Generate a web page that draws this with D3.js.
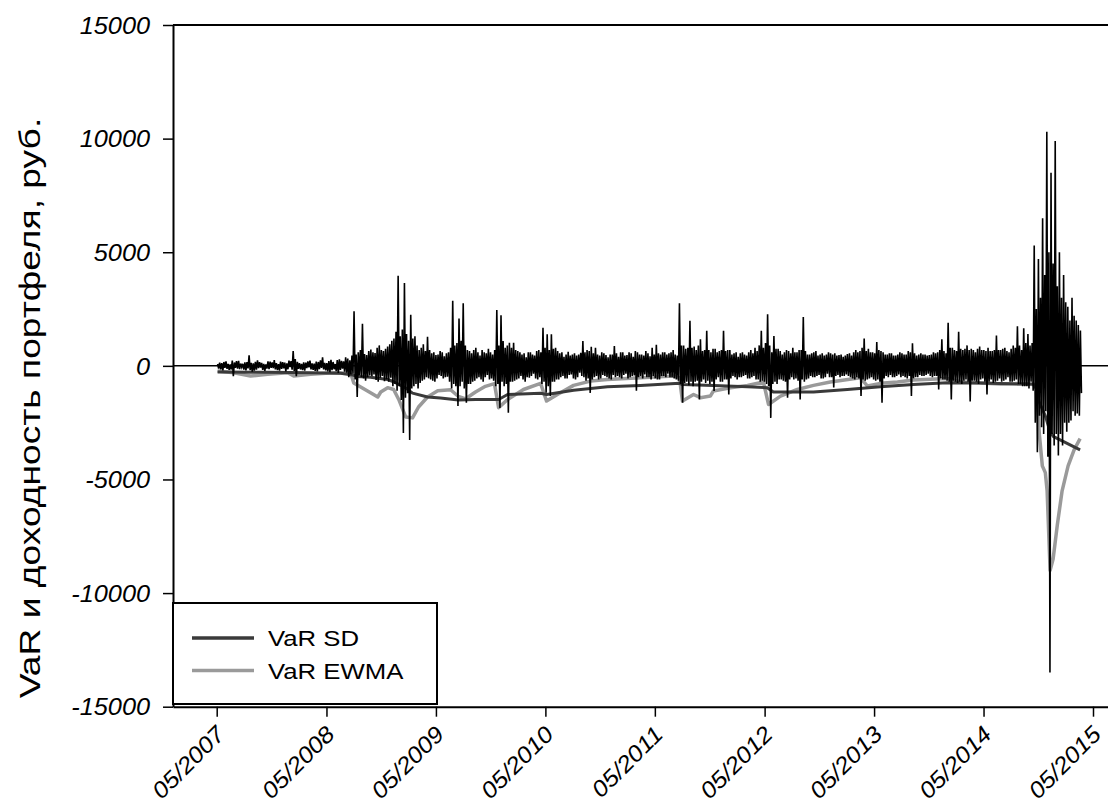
<!DOCTYPE html>
<html>
<head>
<meta charset="utf-8">
<script src="https://cdn.jsdelivr.net/npm/d3@7"></script>
<style>
  body { margin: 0; background: #fff; }
  text { font-family: "Liberation Sans", Arial, sans-serif; }
</style>
</head>
<body>
<svg width="1108" height="805"></svg>
<script>
// tick labels
var yTickValues = [-15000, -10000, -5000, 0, 5000, 10000, 15000];
var xTickLabels = ["05/2007", "05/2008", "05/2009", "05/2010", "05/2011", "05/2012", "05/2013", "05/2014", "05/2015"];
var seriesNames = ["VaR SD", "VaR EWMA"];

// portfolio return, one value every half week starting 2007-05-04
var retStart = "2007-05-04";
var retValues = [
  80, -120, 140, -150, 120, -200, 170, -90, 200, -130, 90, -180, 60, -160, 230, -450, 150, -90, 210, -120,
  220, -140, 100, -60, 90, -170, 150, -200, 170, -110, 460, -190, 130, -250, 110, -210, 180, -170, 240, -100,
  160, -80, 130, -180, 90, -220, 60, -120, 200, -140, 190, -90, 150, -100, 250, -160, 120, -190, 80, -210,
  190, -130, 160, -110, 140, -240, 110, -150, 230, -60, 210, -170, 650, -220, 300, -450, 180, -130, 120, -160,
  90, -190, 150, -210, 140, -100, 200, -70, 230, -160, 110, -180, 100, -220, 190, -250, 170, -140, 240, -90,
  370, -160, 130, -200, 120, -240, 210, -280, 260, -190, 170, -150, 80, -230, 250, -310, 290, -180, 220, -120,
  200, -260, 380, -300, 320, -500, 240, -380, 450, -350, 2400, -600, 500, -1370, 600, -420, 700, -500, 1850, -550,
  520, -650, 480, -500, 650, -420, 720, -450, 600, -380, 560, -620, 800, -700, 900, -520, 700, -450, 650, -680,
  750, -600, 850, -700, 950, -520, 1100, -900, 1200, -800, 1500, -1100, 3970, -900, 1300, -1500, 1600, -2950, 3650, -1400,
  1400, -1200, 1100, -3260, 2250, -1000, 1200, -900, 1300, -800, 900, -1000, 700, -750, 800, -650, 950, -600, 650, -500,
  1280, -550, 700, -600, 550, -650, 600, -700, 480, -550, 500, -400, 650, -450, 600, -550, 420, -500, 550, -480,
  600, -700, 800, -1000, 2860, -800, 900, -900, 1000, -1770, 2080, -900, 1100, -700, 2750, -1000, 900, -1620, 700, -800,
  650, -800, 550, -700, 700, -650, 800, -550, 600, -500, 450, -600, 700, -700, 600, -500, 550, -400, 750, -600,
  600, -550, 500, -650, 700, -900, 2460, -800, 900, -1850, 2230, -700, 1090, -900, 800, -800, 900, -2060, 1020, -700,
  800, -700, 1020, -650, 700, -600, 650, -550, 600, -450, 500, -600, 550, -700, 380, -500, 600, -520, 600, -450,
  500, -350, 450, -550, 650, -600, 700, -500, 600, -800, 1680, -700, 800, -1180, 1390, -900, 700, -1330, 1390, -700,
  750, -700, 800, -600, 650, -600, 550, -500, 600, -450, 400, -550, 500, -550, 620, -400, 450, -380, 500, -550,
  550, -600, 450, -500, 500, -300, 580, -450, 1090, -500, 600, -650, 700, -550, 650, -1190, 840, -600, 550, -500,
  800, -450, 500, -600, 450, -550, 600, -400, 550, -450, 480, -500, 380, -550, 500, -600, 500, -400, 870, -500,
  550, -450, 400, -500, 600, -550, 600, -400, 450, -350, 480, -550, 600, -500, 550, -450, 400, -420, 650, -1100,
  600, -500, 500, -450, 500, -550, 450, -380, 650, -500, 550, -500, 420, -600, 800, -450, 500, -550, 930, -600,
  550, -600, 500, -450, 600, -450, 600, -500, 500, -350, 550, -500, 600, -500, 700, -550, 500, -600, 450, -650,
  2750, -800, 900, -1620, 900, -750, 750, -700, 800, -850, 1980, -700, 800, -900, 850, -700, 700, -650, 900, -1480,
  1170, -700, 650, -600, 700, -750, 1540, -650, 700, -800, 600, -700, 750, -1110, 750, -600, 600, -500, 650, -700,
  700, -700, 1540, -600, 650, -600, 700, -1260, 700, -550, 500, -450, 550, -500, 600, -600, 400, -500, 550, -500,
  600, -450, 500, -400, 450, -550, 600, -550, 700, -500, 550, -450, 800, -600, 650, -600, 900, -700, 1540, -650,
  800, -700, 1000, -800, 2270, -900, 900, -2290, 600, -800, 1310, -700, 750, -800, 750, -600, 650, -600, 500, -650,
  600, -700, 700, -1400, 650, -600, 550, -500, 800, -600, 600, -550, 600, -650, 700, -1480, 700, -600, 2150, -700,
  650, -600, 500, -550, 500, -450, 550, -500, 600, -500, 650, -450, 450, -400, 500, -550, 550, -550, 450, -500,
  500, -350, 600, -500, 550, -500, 500, -950, 550, -450, 450, -400, 480, -500, 500, -450, 400, -450, 450, -380,
  520, -450, 550, -500, 450, -550, 600, -600, 700, -500, 600, -550, 650, -1330, 800, -600, 1200, -650, 650, -600,
  750, -550, 600, -500, 600, -600, 550, -650, 1050, -600, 700, -700, 650, -1620, 600, -550, 500, -450, 500, -500,
  550, -400, 550, -500, 450, -500, 450, -450, 500, -380, 600, -500, 550, -450, 500, -500, 500, -550, 650, -450,
  600, -1330, 990, -550, 550, -500, 450, -500, 500, -400, 550, -450, 500, -450, 500, -400, 450, -350, 480, -450,
  500, -500, 600, -450, 550, -450, 600, -1040, 700, -550, 1170, -600, 650, -600, 550, -650, 1900, -700, 800, -1480,
  800, -650, 700, -700, 650, -750, 1500, -700, 750, -800, 700, -650, 750, -600, 900, -700, 700, -1570, 750, -650,
  700, -650, 600, -700, 750, -800, 850, -600, 700, -550, 700, -700, 650, -1260, 800, -700, 650, -600, 650, -750,
  700, -700, 1340, -650, 700, -550, 700, -700, 750, -650, 800, -600, 650, -500, 600, -700, 750, -700, 900, -650,
  800, -600, 1740, -800, 900, -800, 700, -900, 1650, -900, 1000, -900, 1400, -1000, 900, -700, 1000, -1100, 5300, -2500,
  2500, -3800, 4700, -2200, 3000, -2700, 6500, -3000, 4000, -2000, 10300, -4000, 5000, -13500, 8500, -3000, 4500, -3500, 9900, -3000,
  3500, -3950, 5000, -3000, 3000, -3500, 4000, -2500, 2800, -2900, 2600, -2500, 2000, -2400, 3000, -2000, 2200, -2200, 2000, -2100,
  1800, -2200, 1550, -1200
];

// VaR SD
var sdDates = [
  "2007-05-04", "2007-10-18", "2008-03-09", "2008-06-17", "2008-07-27", "2008-08-10",
  "2008-09-25", "2008-11-21", "2008-12-11", "2009-01-20", "2009-02-12", "2009-04-03",
  "2009-05-16", "2009-07-15", "2009-09-10", "2009-11-26", "2009-12-26", "2010-04-15",
  "2010-05-05", "2010-08-03", "2010-11-24", "2011-03-14", "2011-07-22", "2011-08-01",
  "2011-11-12", "2012-03-05", "2012-05-10", "2012-05-30", "2012-10-11", "2013-02-01",
  "2013-05-22", "2013-09-09", "2013-12-31", "2014-04-20", "2014-08-31", "2014-10-14",
  "2014-10-24", "2014-11-03", "2014-11-23", "2014-12-09", "2014-12-19", "2015-01-18",
  "2015-03-19"
];
var sdValues = [
  -270, -280, -300, -330, -400, -470,
  -500, -600, -700, -970, -1200, -1370,
  -1410, -1500, -1480, -1480, -1260, -1210,
  -1260, -1070, -920, -860, -770, -820,
  -860, -920, -960, -1150, -1150, -1040,
  -920, -820, -740, -760, -800, -800,
  -1000, -1600, -2200, -2900, -3100, -3300,
  -3700
];

// VaR EWMA
var ewmaDates = [
  "2007-05-04", "2007-06-27", "2007-08-22", "2007-10-18", "2007-12-24", "2008-01-13",
  "2008-03-09", "2008-05-25", "2008-07-21", "2008-07-31", "2008-08-23", "2008-09-25",
  "2008-10-19", "2008-10-29", "2008-11-21", "2008-12-11", "2008-12-28", "2009-01-20",
  "2009-02-12", "2009-03-04", "2009-04-03", "2009-05-07", "2009-06-19", "2009-07-15",
  "2009-08-08", "2009-09-10", "2009-10-13", "2009-11-12", "2009-11-26", "2009-12-26",
  "2010-02-17", "2010-04-15", "2010-05-05", "2010-06-10", "2010-08-03", "2010-09-28",
  "2010-11-24", "2011-03-14", "2011-07-02", "2011-07-22", "2011-08-01", "2011-09-07",
  "2011-09-30", "2011-11-02", "2011-11-12", "2012-01-08", "2012-03-05", "2012-04-27",
  "2012-05-14", "2012-06-23", "2012-08-18", "2012-10-11", "2012-12-06", "2013-03-16",
  "2013-04-09", "2013-05-22", "2013-07-18", "2013-09-09", "2013-12-31", "2014-02-13",
  "2014-04-20", "2014-06-26", "2014-08-31", "2014-10-14", "2014-10-24", "2014-11-03",
  "2014-11-13", "2014-11-23", "2014-11-29", "2014-12-09", "2014-12-19", "2015-01-02",
  "2015-01-18", "2015-02-07", "2015-02-27", "2015-03-19"
];
var ewmaValues = [
  -230, -300, -450, -375, -300, -450,
  -375, -300, -330, -750, -930, -1180,
  -1370, -1150, -960, -1040, -1480, -2250,
  -2290, -1810, -1370, -1100, -1050, -1350,
  -1450, -1150, -900, -780, -1840, -1480,
  -1040, -770, -1550, -1260, -860, -670,
  -600, -520, -450, -520, -1550, -1260,
  -1400, -1330, -1110, -960, -860, -710,
  -1700, -1330, -1040, -860, -710, -520,
  -890, -770, -710, -620, -560, -700,
  -750, -800, -780, -820, -800, -3000,
  -4400, -4700, -5500, -9000, -8500, -7000,
  -5500, -4400, -3700, -3200
];

var svg = d3.select("svg");
var parseDay = d3.timeParse("%Y-%m-%d");
var parseTick = d3.timeParse("%m/%Y");

var x = d3.scaleTime()
    .domain([parseTick(xTickLabels[0]), parseTick(xTickLabels[xTickLabels.length - 1])])
    .range([216.7, 1093]);
x.domain([x.invert(173), x.invert(1112)]).range([173, 1112]);

var y = d3.scaleLinear().domain([-15000, 15000]).range([706.7, 25]);

var t0 = parseDay(retStart);
var returns = retValues.map(function(v, i) {
  return { date: d3.timeHour.offset(t0, 84 * i), value: v };
});
var sd = sdDates.map(function(d, i) { return { date: parseDay(d), value: sdValues[i] }; });
var ewma = ewmaDates.map(function(d, i) { return { date: parseDay(d), value: ewmaValues[i] }; });

var line = d3.line()
    .x(function(d) { return x(d.date); })
    .y(function(d) { return y(d.value); });

// top frame line and zero line
svg.append("line")
    .attr("x1", x.range()[0]).attr("x2", x.range()[1])
    .attr("y1", y(15000)).attr("y2", y(15000))
    .attr("stroke", "#000").attr("stroke-width", 2);

svg.append("line")
    .attr("x1", x.range()[0]).attr("x2", x.range()[1])
    .attr("y1", y(0)).attr("y2", y(0))
    .attr("stroke", "#000").attr("stroke-width", 1.5);

svg.append("path")
    .datum(ewma)
    .attr("fill", "none")
    .attr("stroke", "#9a9a9a")
    .attr("stroke-width", 3.5)
    .attr("stroke-linejoin", "round")
    .attr("d", line);

svg.append("path")
    .datum(sd)
    .attr("fill", "none")
    .attr("stroke", "#3a3a3a")
    .attr("stroke-width", 3)
    .attr("stroke-linejoin", "round")
    .attr("d", line);

svg.append("path")
    .datum(returns)
    .attr("fill", "none")
    .attr("stroke", "#000")
    .attr("stroke-width", 1.6)
    .attr("d", line);

// axes
var yAxis = svg.append("g")
    .attr("transform", "translate(" + x.range()[0] + ",0)")
    .call(d3.axisLeft(y)
      .tickValues(yTickValues)
      .tickSize(10)
      .tickSizeOuter(0)
      .tickFormat(function(d) { return String(d); }));

yAxis.select(".domain").attr("stroke-width", 2);
yAxis.selectAll(".tick line").attr("stroke-width", 1.5);
yAxis.selectAll(".tick text")
    .attr("x", -23 / 1.1)
    .attr("dy", "0.36em")
    .attr("transform", "scale(1.1,1)")
    .style("font-size", "23px")
    .style("font-style", "italic")
    .attr("fill", "#000");

var xAxis = svg.append("g")
    .attr("transform", "translate(0," + y(-15000) + ")")
    .call(d3.axisBottom(x)
      .tickValues(xTickLabels.map(parseTick))
      .tickSize(10)
      .tickSizeOuter(0)
      .tickFormat(d3.timeFormat("%m/%Y")));

xAxis.select(".domain").attr("stroke-width", 2);
xAxis.selectAll(".tick line").attr("stroke-width", 1.5);
xAxis.selectAll(".tick text")
    .attr("x", 0).attr("y", 0).attr("dy", 0)
    .attr("text-anchor", "end")
    .attr("transform", "translate(9,29) rotate(-45) scale(1.1,1)")
    .style("font-size", "23px")
    .style("font-style", "italic")
    .attr("fill", "#000");

// y title
svg.append("text")
    .attr("transform", "translate(40,408) rotate(-90) scale(1.24,1)")
    .attr("text-anchor", "middle")
    .style("font-size", "30px")
    .text("VaR и доходность портфеля, руб.");

// legend
var legend = svg.append("g").attr("transform", "translate(173,603)");
legend.append("rect")
    .attr("width", 264).attr("height", 101)
    .attr("fill", "#fff").attr("stroke", "#000").attr("stroke-width", 2);

var legendColors = ["#3a3a3a", "#9a9a9a"];
seriesNames.forEach(function(name, i) {
  var g = legend.append("g").attr("transform", "translate(0," + (35 + i * 32.5) + ")");
  g.append("line")
      .attr("x1", 19).attr("x2", 81)
      .attr("stroke", legendColors[i]).attr("stroke-width", 3.5);
  g.append("text")
      .attr("x", 95 / 1.12).attr("y", 8)
      .attr("transform", "scale(1.12,1)")
      .style("font-size", "23px")
      .text(name);
});
</script>
</body>
</html>
